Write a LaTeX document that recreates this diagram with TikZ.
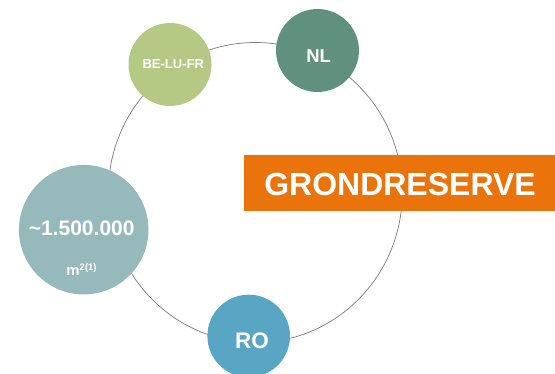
\documentclass[tikz,border=0pt]{standalone}
\usepackage{fontspec}
\setmainfont{Liberation Sans}
\definecolor{cBE}{HTML}{B5C985}
\definecolor{cNL}{HTML}{60917F}
\definecolor{cBig}{HTML}{96B9BC}
\definecolor{cRO}{HTML}{59A6C4}
\definecolor{cOr}{HTML}{EA730B}
\begin{document}
\begin{tikzpicture}[x=1pt,y=-1pt,
  ring/.style={draw=black!50, line width=0.75pt},
  blob/.style={circle, inner sep=0pt, minimum size=#1},
  lbl/.style={text=white, inner sep=0pt, font=\bfseries\fontsize{#1}{#1}\selectfont}]
\useasboundingbox (0,0) rectangle (555,374);
\draw[ring] (255.3,192.5) ellipse [x radius=147, y radius=150];
% circles
\node[blob=83pt, fill=cBE] (be) at (170,64.5) {};
\node[blob=83pt, fill=cNL] (nl) at (317.5,50.5) {};
\node[blob=129.5pt, fill=cBig] (big) at (83.7,229.7) {};
\node[blob=82.6pt, fill=cRO] (ro) at (248.7,336) {};
% labels
\node[lbl=13] (betext) at (173.2,64.5) {BE-LU-FR};
\node[lbl=18.5] (nltext) at (318.7,56) {NL};
\node[lbl=21] (bigtext) at (81.7,228) {\char"7E\relax 1.500.000};
\node[lbl=15, anchor=base] (unit) at (81.5,276) {m\raisebox{5pt}{\fontsize{9.5}{9.5}\selectfont 2(1)}};
\node[lbl=22.5] (rotext) at (252,341) {RO};
% orange banner
\node[fill=cOr, anchor=north west, minimum width=311pt, minimum height=56pt, inner sep=0pt] (gr) at (244,155) {};
\node[lbl=32] (grtext) at (400,184) {GRONDRESERVE};
\end{tikzpicture}
\end{document}
